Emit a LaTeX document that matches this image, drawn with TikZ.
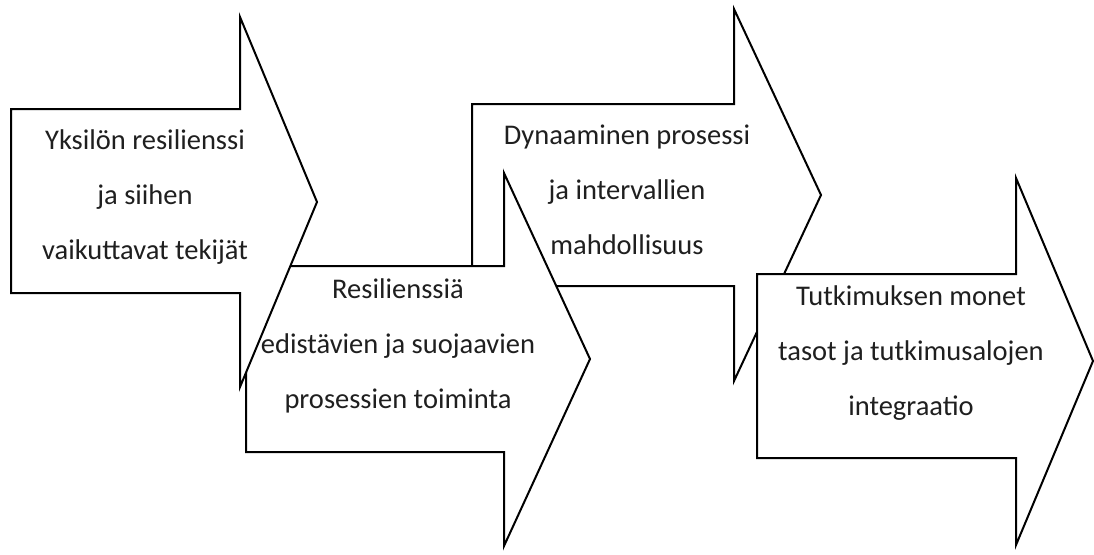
\documentclass[tikz,border=0pt]{standalone}
\usepackage{fontspec}
\setmainfont{Carlito}
\usetikzlibrary{positioning}
\tikzset{
	blockarrow/.style={draw=black, fill=white, line width=2pt, line join=miter},
	label/.style={align=center, text=black!88, font=\fontsize{28.5}{55}\selectfont, inner sep=0pt}
}

\begin{document}
\begin{tikzpicture}[x=1pt, y=-1pt]
\useasboundingbox (0,0) rectangle (1094,554);
% arrows, back to front
\draw[blockarrow] (472,104) -- (734,104) -- (734,9) -- (821,195) -- (734,381) -- (734,286) -- (472,286) -- cycle;
\draw[blockarrow] (757,274) -- (1016,274) -- (1016,178) -- (1093,361) -- (1016,545) -- (1016,458) -- (757,458) -- cycle;
\draw[blockarrow] (246,266) -- (504,266) -- (504,173) -- (590,359) -- (504,546) -- (504,452) -- (246,452) -- cycle;
\draw[blockarrow] (11,109) -- (240,109) -- (240,17) -- (317,202) -- (240,387) -- (240,293) -- (11,293) -- cycle;

% texts
\node[label] (yksilo) at (145,197) {Yksilön resilienssi\\ja siihen\\vaikuttavat tekijät};
\node[label] (resilienssi) at (398,346) {Resilienssiä\\edistävien ja suojaavien\\prosessien toiminta};
\node[label] (dynaaminen) at (627,190) {Dynaaminen prosessi\\ja intervallien\\mahdollisuus};
\node[label] (tutkimus) at (911,353) {Tutkimuksen monet\\tasot ja tutkimusalojen\\integraatio};
\end{tikzpicture}
\end{document}
